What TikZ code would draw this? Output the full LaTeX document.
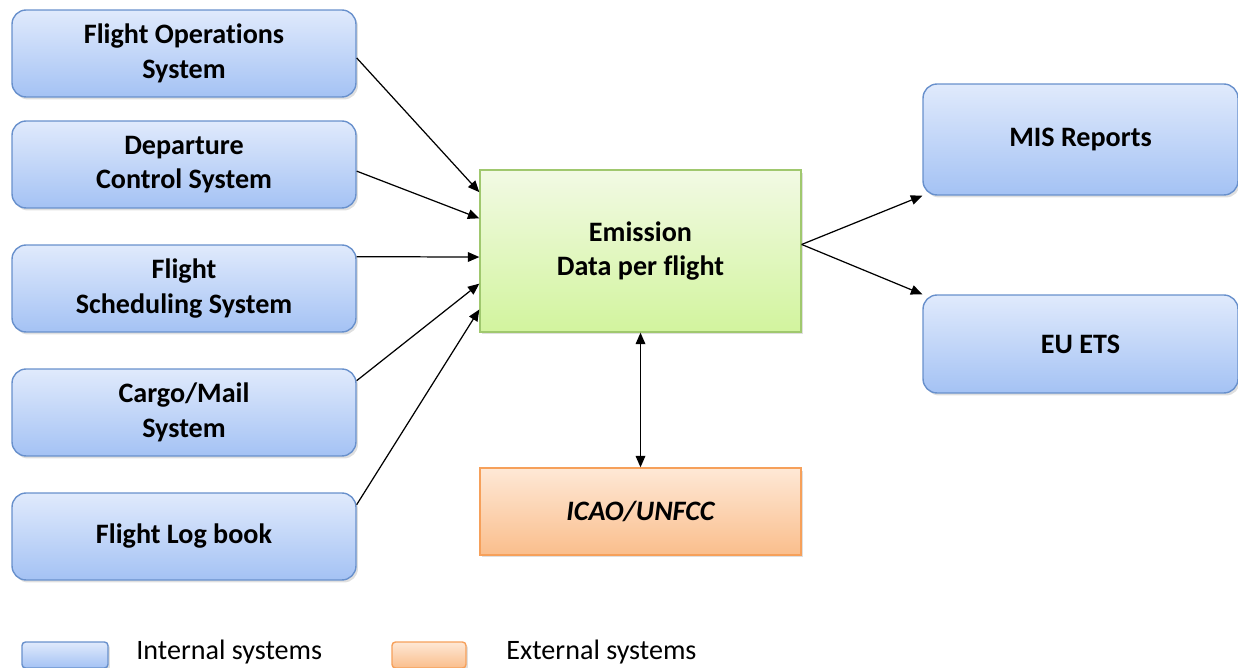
\documentclass[tikz,border=0pt]{standalone}
\usepackage{fontspec}
\setmainfont[Ligatures=NoCommon]{Carlito}
\usetikzlibrary{arrows.meta,calc,shadows}
\definecolor{inttop}{RGB}{224,234,252}
\definecolor{intbot}{RGB}{164,194,244}
\definecolor{intline}{RGB}{104,144,204}
\definecolor{emtop}{RGB}{242,250,228}
\definecolor{embot}{RGB}{210,244,158}
\definecolor{emline}{RGB}{160,200,110}
\definecolor{exttop}{RGB}{254,232,214}
\definecolor{extbot}{RGB}{250,190,140}
\definecolor{extline}{RGB}{246,160,90}
\begin{document}
\begin{tikzpicture}[x=0.02cm,y=-0.02cm,>={Triangle[length=6.5pt,width=5.5pt]},
  every node/.style={font=\fontsize{16}{19.7}\selectfont\bfseries},
  box/.style={draw,line width=0.8pt,align=center,minimum width=6.88cm,minimum height=1.74cm,
    drop shadow={shadow xshift=0.04cm,shadow yshift=-0.05cm,opacity=0.25}},
  intbox/.style={box,rounded corners=8pt,draw=intline,top color=inttop,bottom color=intbot},
  embox/.style={box,draw=emline,top color=emtop,bottom color=embot},
  extbox/.style={box,draw=extline,top color=exttop,bottom color=extbot},
  legtext/.style={font=\fontsize{16}{19.7}\selectfont,anchor=base west,inner sep=0pt},
  flow/.style={->,line width=0.7pt}]
  \useasboundingbox (0,0) rectangle (1238,668);
  % sources
  \node[intbox] (fo) at (184,53.5) {Flight Operations\\System};
  \node[intbox] (dcs) at (184,164.5) {Departure\\Control System};
  \node[intbox] (fss) at (184,288.5) {Flight\\Scheduling System};
  \node[intbox] (cms) at (184,412.5) {Cargo/Mail\\System};
  \node[intbox] (flb) at (184,536.5) {Flight Log book};
  % centre
  \node[embox,minimum width=6.42cm,minimum height=3.24cm] (em) at (640.5,251) {Emission\\Data per flight};
  \node[extbox,minimum width=6.42cm,font=\fontsize{16}{19.7}\selectfont\bfseries\itshape] (icao) at (640.5,511.5) {ICAO/UNFCC};
  % outputs
  \node[intbox,minimum width=6.3cm,minimum height=2.22cm] (mis) at (1080.5,139.5) {MIS Reports};
  \node[intbox,minimum width=6.3cm,minimum height=1.96cm] (ets) at (1080.5,344) {EU ETS};
  % connectors
  \foreach \src/\fs/\ft in {fo/0.55/0.14,dcs/0.575/0.30,fss/0.14/0.537,cms/0.14/0.70,flb/0.14/0.858}
    \draw[flow] ($(\src.north east)!\fs!(\src.south east)$) -- ($(em.north west)!\ft!(em.south west)$);
  \coordinate (out) at ($(em.north east)!0.46!(em.south east)$);
  \draw[flow] (out) -- (mis.south west);
  \draw[flow] (out) -- (ets.north west);
  \draw[flow,<->] (em.south) -- (icao.north);
  % legend
  \node[intbox,rounded corners=2pt,minimum width=1.72cm,minimum height=0.52cm] (lint) at (65,655) {};
  \node[legtext] (tint) at (136,660) {Internal systems};
  \node[extbox,rounded corners=2pt,minimum width=1.48cm,minimum height=0.52cm] (lext) at (429,655) {};
  \node[legtext] (text) at (506,660) {External systems};
\end{tikzpicture}
\end{document}
